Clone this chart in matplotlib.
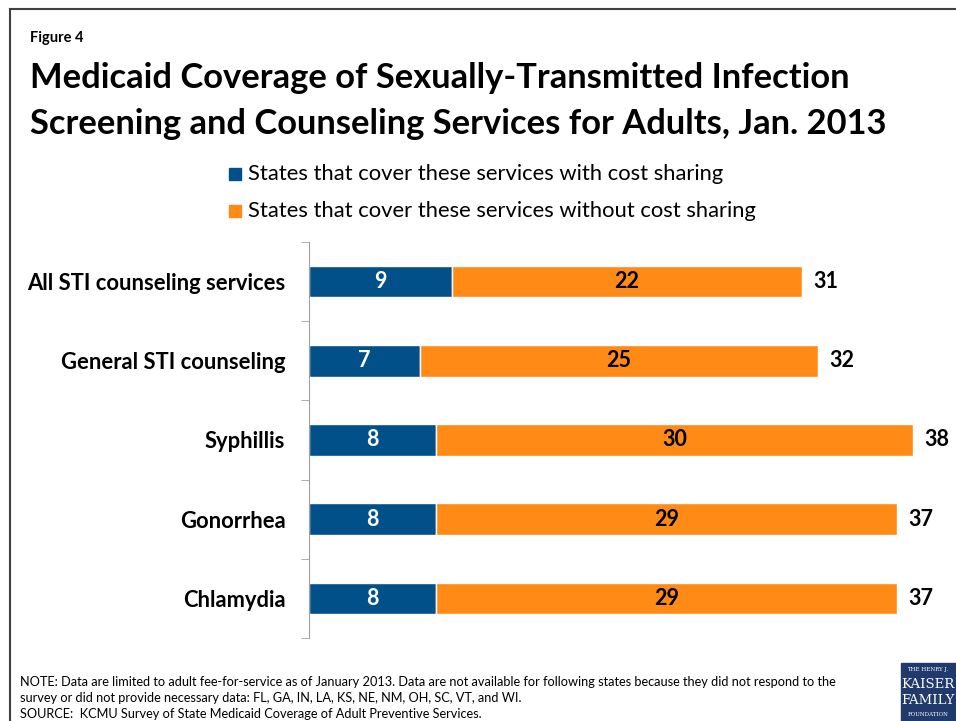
import matplotlib.pyplot as plt
import matplotlib.patches as patches
import numpy as np

plt.rcParams['font.family'] = ['Lato', 'DejaVu Sans']

# data
categories = ['All STI counseling services', 'General STI counseling',
              'Syphillis', 'Gonorrhea', 'Chlamydia']
with_cost = [9, 7, 8, 8, 8]
without_cost = [22, 25, 30, 29, 29]
series_names = ['States that cover these services with cost sharing',
                'States that cover these services without cost sharing']

blue = '#02508A'
orange = '#FF8A15'

W, H = 956, 721
fig = plt.figure(figsize=(W / 100, H / 100), dpi=100)

def fx(px):
    return px / W

def fy(py):
    return 1 - py / H

# frame around the slide
fig.add_artist(plt.Line2D([fx(10), 1], [fy(9), fy(9)], color='#404040', lw=1.5))
fig.add_artist(plt.Line2D([fx(10), fx(10)], [fy(9), 0], color='#404040', lw=1.5))

fig.text(fx(30), fy(38), 'Figure 4', fontsize=10.5, fontweight='bold', va='center')
fig.text(fx(30), fy(78), 'Medicaid Coverage of Sexually-Transmitted Infection',
         fontsize=24.8, fontweight='bold', va='center')
fig.text(fx(30), fy(124), 'Screening and Counseling Services for Adults, Jan. 2013',
         fontsize=24.8, fontweight='bold', va='center')

# legend
for i, (name, col) in enumerate(zip(series_names, [blue, orange])):
    yy = 174 + 37 * i
    fig.add_artist(patches.Rectangle((fx(229), fy(yy + 6)), fx(12), 12 / H,
                                     color=col, transform=fig.transFigure))
    fig.text(fx(248), fy(yy), name, fontsize=15.8, va='center')

# chart
ax = fig.add_axes([fx(309), fy(638), fx(945) - fx(309), (638 - 242) / H])
y = np.arange(len(categories))
total = [a + b for a, b in zip(with_cost, without_cost)]

ax.barh(y, with_cost, height=0.4, color=blue, edgecolor='white', linewidth=1)
ax.barh(y, without_cost, left=with_cost, height=0.4, color=orange,
        edgecolor='white', linewidth=1)

for i in range(len(categories)):
    ax.text(with_cost[i] / 2, y[i], str(with_cost[i]), color='white',
            fontsize=15.5, fontweight='bold', ha='center', va='center')
    ax.text(with_cost[i] + without_cost[i] / 2, y[i], str(without_cost[i]),
            color='black', fontsize=15.5, fontweight='bold', ha='center', va='center')
    ax.text(total[i] + 0.7, y[i], str(total[i]), color='black',
            fontsize=15.5, fontweight='bold', ha='left', va='center')

ax.set_xlim(0, 40)
ax.set_ylim(len(categories) - 0.5, -0.5)
ax.set_yticks(y, categories, fontsize=15.8, fontweight='bold')
ax.set_yticks(np.arange(len(categories) + 1) - 0.5, minor=True)
ax.tick_params(axis='y', which='major', length=0, pad=17)
ax.tick_params(axis='y', which='minor', length=6, color='#A0A0A0', direction='out')
ax.set_xticks([])
for s in ['top', 'right', 'bottom']:
    ax.spines[s].set_visible(False)
ax.spines['left'].set_color('#A0A0A0')

# notes
notes = ['NOTE: Data are limited to adult fee-for-service as of January 2013. Data are not available for following states because they did not respond to the',
         'survey or did not provide necessary data: FL, GA, IN, LA, KS, NE, NM, OH, SC, VT, and WI.',
         'SOURCE:  KCMU Survey of State Medicaid Coverage of Adult Preventive Services.']
for i, line in enumerate(notes):
    fig.text(fx(20), fy(682 + 16 * i), line, fontsize=9.2, va='center')

# logo block
fig.add_artist(patches.Rectangle((fx(901), 0), fx(56), fy(663), color='#1F3A6B',
                                 transform=fig.transFigure))
fig.text(fx(928), fy(669), 'THE HENRY J.', fontsize=4, color='white', va='center',
         ha='center', family='DejaVu Serif')
fig.text(fx(928), fy(685), 'KAISER', fontsize=9.5, color='white', va='center',
         ha='center', family='DejaVu Serif')
fig.text(fx(928), fy(700), 'FAMILY', fontsize=9.5, color='white', va='center',
         ha='center', family='DejaVu Serif')
fig.text(fx(928), fy(714), 'FOUNDATION', fontsize=4, color='white', va='center',
         ha='center', family='DejaVu Serif')

fig.savefig('out.png', dpi=100)
